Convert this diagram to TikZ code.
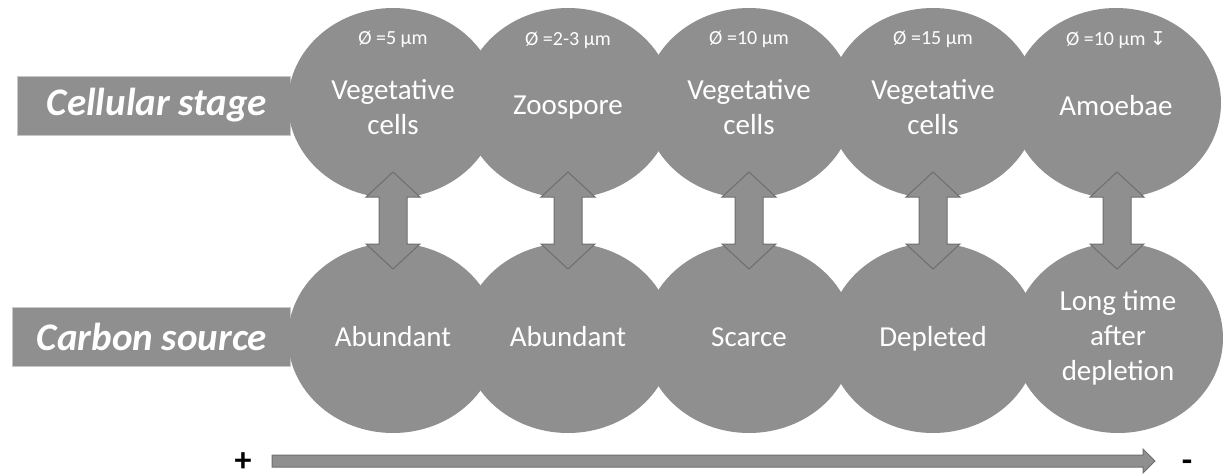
\documentclass[tikz,border=0pt]{standalone}
\usepackage{fontspec}
\setmainfont{Carlito}
\newfontfamily\symfont{DejaVu Sans}
\usetikzlibrary{shapes.geometric,calc}
\definecolor{cgray}{RGB}{143,143,143}
\definecolor{cedge}{RGB}{110,110,110}
\definecolor{cbar}{RGB}{200,200,200}
\begin{document}
\begin{tikzpicture}[x=1pt,y=-1pt,
  blob/.style={ellipse, fill=cgray, minimum width=210pt, minimum height=190pt, inner sep=0pt},
  blobtext/.style={text=white, align=center, inner sep=0pt, font=\fontsize{29}{35}\selectfont},
  rowlabel/.style={rectangle, fill=cgray, draw=cbar, line width=1pt, inner sep=0pt,
    minimum height=59pt},
  rowtext/.style={text=white, inner sep=0pt, font=\fontsize{39}{45}\selectfont\bfseries\itshape},
  diam/.style={text=white, inner sep=0pt, font=\fontsize{20}{24}\selectfont},
  arrowshape/.style={draw=cedge, fill=cgray, line width=1pt, line join=miter},
  sign/.style={text=black, inner sep=0pt, font=\fontsize{34}{38}\selectfont\bfseries}
]
\useasboundingbox (0,0) rectangle (1227,475);

% row labels
\node[rowlabel, minimum width=273pt] (lcell) at (153.5,105.5) {};
\node[rowlabel, minimum width=278pt] (lcarb) at (151,336.5) {};
\node[rowtext] (tcell) at (157,105) {Cellular stage};
\node[rowtext] (tcarb) at (152,337) {Carbon source};

% circles
\foreach \i/\x in {1/393,2/568,3/749,4/933,5/1116}{
  \node[blob] (t\i) at (\x,103) {};
}
\foreach \i/\x in {1/393,2/568,3/749,4/933,5/1118}{
  \node[blob] (b\i) at (\x,338) {};
}

% top texts
\node[blobtext] (m1) at ($(t1.center)+(0,4)$) {Vegetative\\cells};
\node[blobtext] (m2) at ($(t2.center)+(0,5)$) {Zoospore};
\node[blobtext] (m3) at ($(t3.center)+(0,4)$) {Vegetative\\cells};
\node[blobtext] (m4) at ($(t4.center)+(0,4)$) {Vegetative\\cells};
\node[blobtext] (m5) at ($(t5.center)+(0,3)$) {Amoebae};

% bottom texts
\node[blobtext] (n1) at ($(b1.center)+(0,-1)$) {Abundant};
\node[blobtext] (n2) at ($(b2.center)+(0,-1)$) {Abundant};
\node[blobtext] (n3) at ($(b3.center)+(0,-1)$) {Scarce};
\node[blobtext] (n4) at ($(b4.center)+(0,1)$) {Depleted};
\node[blobtext] (n5) at ($(b5.center)+(0,0)$) {Long time\\after\\depletion};

% diameters
\node[diam] (d1) at ($(t1.center)+(0,-64)$) {Ø =5 µm};
\node[diam] (d2) at ($(t2.center)+(0,-63)$) {Ø =2-3 µm};
\node[diam] (d3) at ($(t3.center)+(0,-64)$) {Ø =10 µm};
\node[diam] (d4) at ($(t4.center)+(0,-64)$) {Ø =15 µm};
\node[diam] (d5) at ($(t5.center)+(0,-63)$) {Ø =10 µm {\symfont\fontsize{19}{22}\selectfont ↧}};

% double arrows between the rows
\foreach \i in {1,...,5}{
  \coordinate (c\i) at ($(t\i)!0.5!(b\i)$);
  \draw[arrowshape]
    ($(c\i)+(0,-48.5)$) -- ($(c\i)+(27,-23.5)$) -- ($(c\i)+(14,-23.5)$) --
    ($(c\i)+(14,23.5)$) -- ($(c\i)+(27,23.5)$) -- ($(c\i)+(0,48.5)$) --
    ($(c\i)+(-27,23.5)$) -- ($(c\i)+(-14,23.5)$) -- ($(c\i)+(-14,-23.5)$) --
    ($(c\i)+(-27,-23.5)$) -- cycle;
}

% time axis
\node[sign] (plus) at (243,462) {+};
\node[sign] (minus) at (1187,466) {-};
\coordinate (ax0) at ($(plus)+(29,-1)$);
\coordinate (ax1) at ($(minus)+(-32,-5)$);
\draw[arrowshape]
  ($(ax0)+(0,-6)$) -- ($(ax1)+(-12,-6)$) -- ($(ax1)+(-12,-12)$) -- (ax1) --
  ($(ax1)+(-12,12)$) -- ($(ax1)+(-12,6)$) -- ($(ax0)+(0,6)$) -- cycle;
\end{tikzpicture}
\end{document}
